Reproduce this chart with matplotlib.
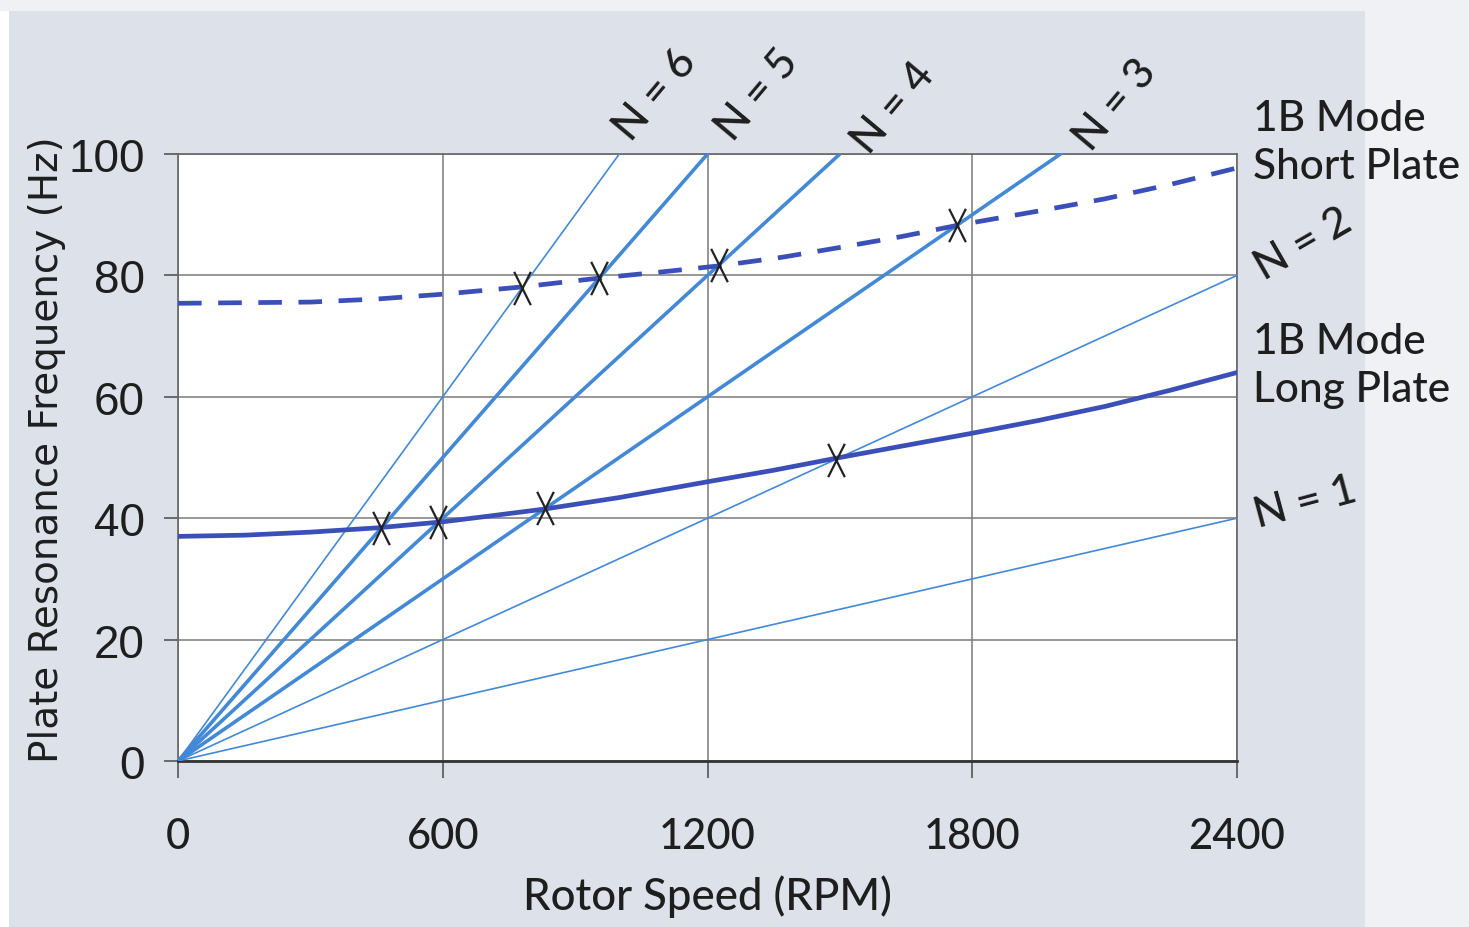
import numpy as np
import matplotlib
matplotlib.use('Agg')
from matplotlib import pyplot as plt
from matplotlib.path import Path
from matplotlib.patches import Rectangle

# engine orders (N x rotor speed)
orders = [1, 2, 3, 4, 5, 6]
order_widths = {1: 1.2, 2: 1.2, 3: 2.6, 4: 2.6, 5: 2.6, 6: 1.2}

# 1B mode, long plate (solid)
long_rpm = [0, 150, 300, 450, 600, 700, 830, 1000, 1200, 1350, 1500, 1650,
            1800, 1950, 2100, 2250, 2400]
long_hz = [37.0, 37.2, 37.7, 38.4, 39.4, 40.3, 41.5, 43.4, 46.0, 47.9, 50.0,
           52.0, 54.0, 56.1, 58.4, 61.1, 64.0]
# 1B mode, short plate (dashed)
short_rpm = [0, 150, 300, 450, 600, 780, 960, 1100, 1230, 1370, 1500, 1640,
             1770, 1950, 2100, 2250, 2400]
short_hz = [75.4, 75.5, 75.6, 76.1, 76.9, 78.1, 79.6, 80.6, 81.6, 83.0, 84.6,
            86.4, 88.3, 90.6, 92.6, 95.0, 97.7]

# crossing points marked with X (order, rpm)
long_cross = [(5, 460), (4, 590), (3, 832), (2, 1490)]
short_cross = [(6, 780), (5, 955), (4, 1225), (3, 1765)]

xticks = [0, 600, 1200, 1800, 2400]
yticks = [0, 20, 40, 60, 80, 100]

line_col = '#4389d6'
mode_col = '#3b4fb8'
bg = '#dde1ea'
calibri = ['Lato', 'DejaVu Sans']
txt = '#1e1e1e'

fig = plt.figure(figsize=(14.69, 9.28), dpi=100, facecolor=bg)
fig.patches.append(Rectangle((0.929, 0), 0.071, 1, transform=fig.transFigure,
                             facecolor='#eff1f5', edgecolor='none', zorder=-1))
fig.patches.append(Rectangle((0, 0), 0.006, 1, transform=fig.transFigure,
                             facecolor='white', edgecolor='none', zorder=-1))
fig.patches.append(Rectangle((0, 0.987), 1, 0.013, transform=fig.transFigure,
                             facecolor='#eff1f5', edgecolor='none', zorder=-1))

ax = fig.add_axes([0.1212, 0.1789, 0.7209, 0.6541])
ax.set_facecolor('white')

rpm = np.array([0, 2400.0])
for n in orders:
    hz = n * rpm / 60.0
    ax.plot(rpm, hz, color=line_col, lw=order_widths[n], zorder=3)

ax.plot(long_rpm, long_hz, color=mode_col, lw=3.4, zorder=4)
ax.plot(short_rpm, short_hz, color=mode_col, lw=3.4, ls=(0, (5, 3.5)), zorder=4)

xmark = Path([(-0.5, -1), (0.5, 1), (-0.5, 1), (0.5, -1)],
             [Path.MOVETO, Path.LINETO, Path.MOVETO, Path.LINETO])
for cross in (long_cross, short_cross):
    xs = [r for n, r in cross]
    ys = [n * r / 60.0 for n, r in cross]
    ax.plot(xs, ys, ls='none', marker=xmark, ms=24, mew=1.6, mec='#222222',
            mfc='none', zorder=5)

ax.set_xlim(0, 2400)
ax.set_ylim(0, 100)
ax.set_xticks(xticks)
ax.set_yticks(yticks)
ax.grid(True, color='#7a7a7a', lw=1.1)
ax.set_axisbelow(True)
for s in ax.spines.values():
    s.set_color('#666666')
    s.set_linewidth(1.2)
ax.spines['bottom'].set_color('#333333')
ax.spines['bottom'].set_linewidth(2)

ax.tick_params(axis='x', length=12, width=1.2, color='#555555', pad=28,
               labelsize=30)
ax.tick_params(axis='y', length=10, width=1.2, color='#555555', pad=14,
               labelsize=33)
for lab in ax.get_xticklabels():
    lab.set_family(calibri)
    lab.set_weight('medium')
    lab.set_color(txt)
for lab in ax.get_yticklabels():
    lab.set_family(['Liberation Sans', 'DejaVu Sans'])
    lab.set_color(txt)

ax.set_xlabel('Rotor Speed (RPM)', fontsize=31.5, family=calibri,
              weight='medium', color=txt, labelpad=14)
ax.set_ylabel('Plate Resonance Frequency (Hz)', fontsize=28,
              family='DejaVu Sans', color=txt)
ax.yaxis.set_label_coords(-0.106, 0.515)

# order labels
top_labels = [(655, 95), (757, 95), (893, 108), (1115, 105)]
for n, (px, py) in zip([6, 5, 4, 3], top_labels):
    fig.text(px / 1469, 1 - py / 928, 'N = %d' % n, rotation=50,
             ha='center', va='center', fontsize=31, family=calibri,
             weight='medium', color=txt)
fig.text(1303 / 1469, 1 - 245 / 928, 'N = 2', rotation=30, ha='center',
         va='center', fontsize=31, family=calibri, weight='medium', color=txt)
fig.text(1305 / 1469, 1 - 503 / 928, 'N = 1', rotation=15, ha='center',
         va='center', fontsize=31, family=calibri, weight='medium', color=txt)

fig.text(1253 / 1469, 1 - 143 / 928, '1B Mode\nShort Plate', ha='left',
         va='center', fontsize=30.5, family=calibri, weight='medium',
         color=txt, linespacing=1.35)
fig.text(1253 / 1469, 1 - 366 / 928, '1B Mode\nLong Plate', ha='left',
         va='center', fontsize=30.5, family=calibri, weight='medium',
         color=txt, linespacing=1.35)

fig.savefig('out.png', dpi=100, facecolor=bg)
